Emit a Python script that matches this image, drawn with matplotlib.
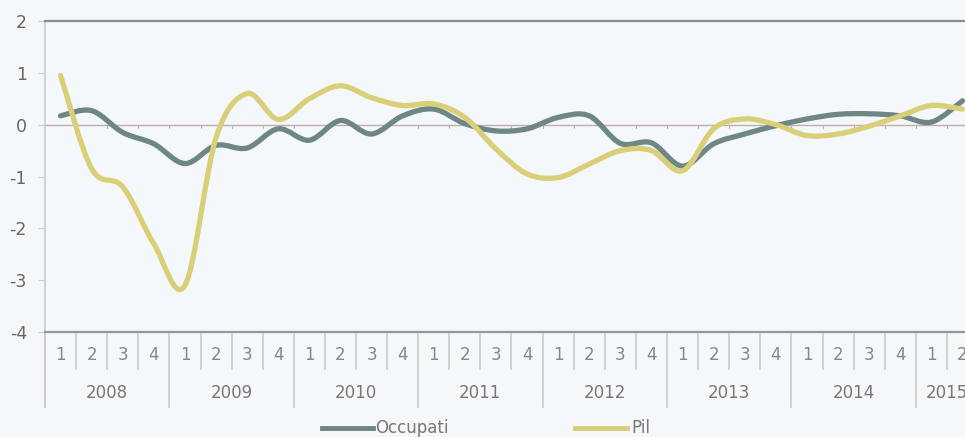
import matplotlib
matplotlib.use("Agg")
import matplotlib.pyplot as plt
import numpy as np
from matplotlib.path import Path
from matplotlib.patches import PathPatch
import matplotlib.transforms as mtransforms

# dati trimestrali 2008 Q1 - 2015 Q2
anni = ["2008", "2009", "2010", "2011", "2012", "2013", "2014", "2015"]
trimestri = ["1", "2", "3", "4"] * 7 + ["1", "2"]
occupati = [0.17, 0.27, -0.15, -0.37, -0.75, -0.40, -0.45, -0.08,
            -0.30, 0.08, -0.18, 0.17, 0.30, 0.02, -0.12, -0.08,
            0.14, 0.17, -0.36, -0.35, -0.80, -0.37, -0.18, -0.02,
            0.11, 0.20, 0.21, 0.17, 0.05, 0.46]
pil = [0.95, -0.85, -1.20, -2.30, -3.10, -0.25, 0.60, 0.10,
       0.50, 0.75, 0.52, 0.37, 0.40, 0.14, -0.47, -0.95,
       -1.02, -0.76, -0.50, -0.50, -0.89, -0.08, 0.11, 0.00,
       -0.21, -0.18, -0.03, 0.17, 0.37, 0.30]

col_occ = "#6f8784"
col_pil = "#d9cf78"
bg = "#f4f8fa"
txt = "#6a6666"


def smooth_path(xs, ys):
    # curva liscia stile Excel (Catmull-Rom -> Bezier)
    p = np.column_stack([xs, ys])
    verts = [p[0]]
    codes = [Path.MOVETO]
    n = len(p)
    for i in range(n - 1):
        p0 = p[i - 1] if i > 0 else p[i]
        p3 = p[i + 2] if i + 2 < n else p[i + 1]
        c1 = p[i] + (p[i + 1] - p0) / 6
        c2 = p[i + 1] - (p3 - p[i]) / 6
        verts += [c1, c2, p[i + 1]]
        codes += [Path.CURVE4] * 3
    return Path(verts, codes)


fig = plt.figure(figsize=(9.65, 4.37), dpi=100, facecolor=bg)
ax = fig.add_axes([45 / 965, 1 - 332 / 437, 933 / 965, 311 / 437])
ax.set_facecolor(bg)

n = len(occupati)
x = np.arange(n) + 0.5
for serie, col in [(occupati, col_occ), (pil, col_pil)]:
    ax.add_patch(PathPatch(smooth_path(x, serie), fill=False, edgecolor=col,
                           lw=3.8, capstyle="round", joinstyle="round", zorder=3))

ax.set_xlim(0, n)
ax.set_ylim(-4, 2)

# linea dello zero con tacche
ax.axhline(0, color="#bfaeae", lw=1.0, zorder=1)
for b in range(1, n):
    ax.plot([b, b], [0, -0.07], color="#bfaeae", lw=0.8, zorder=1)

ax.spines["right"].set_visible(False)
ax.spines["top"].set_color("#7f9292")
ax.spines["top"].set_linewidth(1.6)
ax.spines["bottom"].set_color("#8f9a9a")
ax.spines["bottom"].set_linewidth(1.6)
ax.spines["left"].set_color("#cccccc")
ax.spines["left"].set_linewidth(1.2)

ax.set_yticks(range(-4, 3))
ax.set_yticklabels([str(v) for v in range(-4, 3)], fontsize=12.5, color=txt)
ax.tick_params(axis="y", length=5, color="#cccccc", pad=8)

ax.set_xticks(x)
ax.set_xticklabels(trimestri, fontsize=12, color="#8a8686")
ax.tick_params(axis="x", length=0, pad=10)

trans = mtransforms.blended_transform_factory(ax.transData, ax.transAxes)
for b in range(0, n + 1):
    low = -0.241 if b % 4 == 0 or b == n else -0.119
    ax.plot([b, b], [-0.006, low], color="#cbcbcb", lw=1.2,
            transform=trans, clip_on=False)
ax.plot([0, 0], [0, -0.241], color="#cbcbcb", lw=1.2, transform=trans, clip_on=False)

for k, anno in enumerate(anni):
    start = k * 4
    end = min(start + 4, n)
    ax.text((start + end) / 2, -0.196, anno, transform=trans, ha="center",
            va="center", fontsize=12, color="#7a7676", clip_on=False)

# legenda
ax.plot([0.297, 0.352], [-0.309, -0.309], color=col_occ, lw=3.5,
        transform=ax.transAxes, clip_on=False)
ax.text(0.354, -0.309, "Occupati", transform=ax.transAxes, ha="left",
        va="center", fontsize=12, color="#7a7676")
ax.plot([0.568, 0.624], [-0.309, -0.309], color=col_pil, lw=3.5,
        transform=ax.transAxes, clip_on=False)
ax.text(0.628, -0.309, "Pil", transform=ax.transAxes, ha="left",
        va="center", fontsize=12, color="#7a7676")

fig.savefig("out.png", dpi=100, facecolor=bg)
